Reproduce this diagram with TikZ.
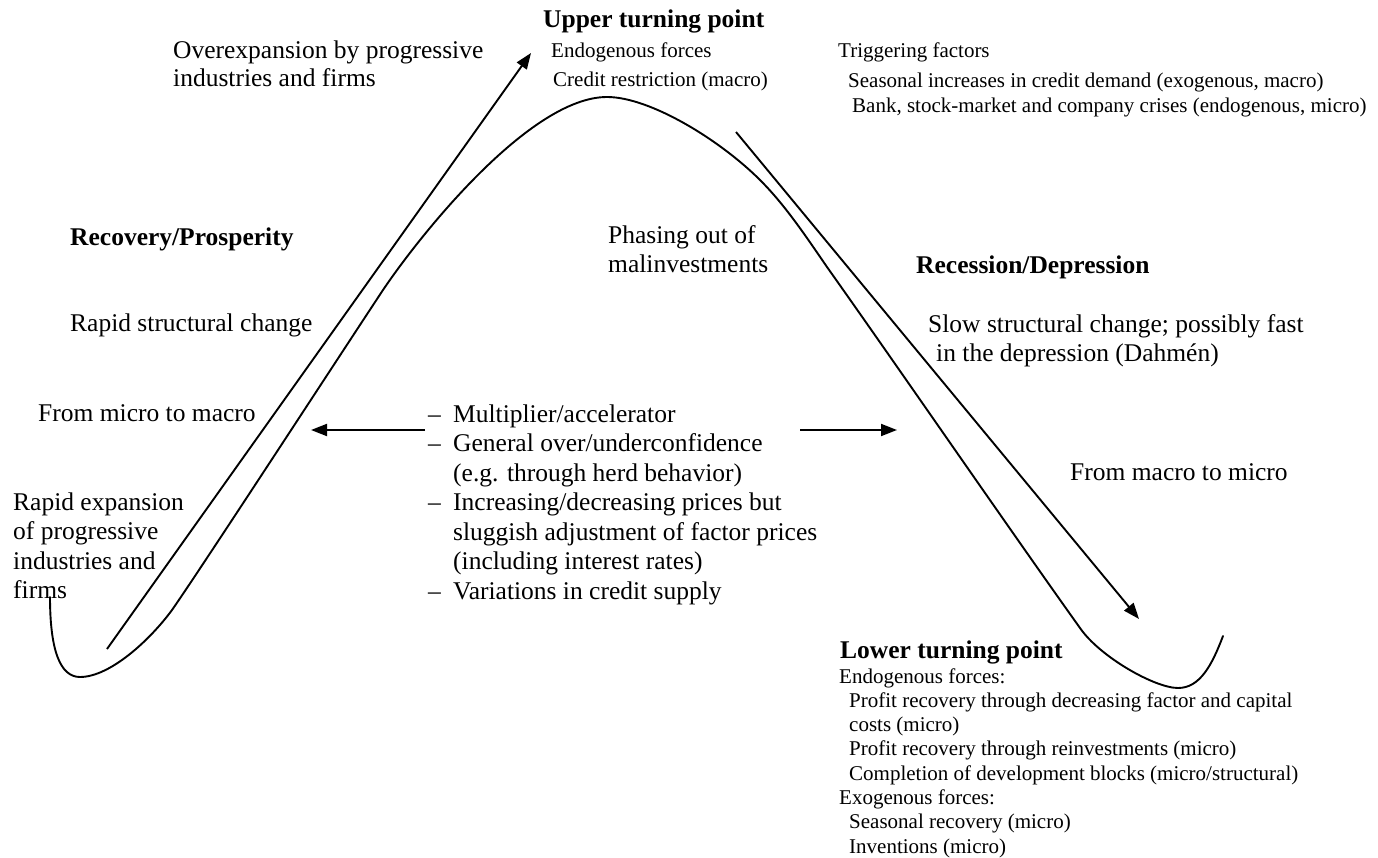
\documentclass[tikz,border=0pt]{standalone}
\usepackage{fontspec}
\setmainfont{Liberation Serif}
\usetikzlibrary{arrows.meta}
\begin{document}
\begin{tikzpicture}[x=1pt,y=-1pt,
  big/.style={font=\fontsize{25.5}{30}\selectfont, anchor=base west, inner sep=0pt},
  bighead/.style={big, font=\fontsize{25.5}{30}\selectfont\bfseries},
  small/.style={font=\fontsize{21}{24}\selectfont, anchor=base west, inner sep=0pt},
  curve/.style={line width=1.9pt, line cap=round, line join=round},
  arr/.style={line width=1.9pt, -{Triangle[length=16pt,width=12pt]}}]
\useasboundingbox (0,0) rectangle (1378,858);

% cycle curve
\draw[curve] (50,597) .. controls (50,650) and (60,677) .. (80,677)
  .. controls (110,677) and (150,640) .. (172,610)
  .. controls (200,570) and (340,355) .. (383,290)
  .. controls (420,235) and (530,97) .. (607,97)
  .. controls (650,97) and (720,140) .. (760,180)
  .. controls (785,205) and (805,235) .. (827,267)
  .. controls (900,370) and (1010,530) .. (1080,628)
  .. controls (1100,657) and (1155,688) .. (1178,688)
  .. controls (1200,688) and (1212,665) .. (1223,636);

% diagonal arrows
\coordinate (upA) at (107,649);
\coordinate (upB) at (531,53);
\coordinate (dnA) at (736,132);
\coordinate (dnB) at (1139,619);
\draw[arr] (upA) -- (upB);
\draw[arr] (dnA) -- (dnB);

% upper turning point
\node[bighead] (utp) at (543,28) {Upper turning point};
\node[small] (endo) at (551,58) {Endogenous forces};
\node[small] (credit) at (553,87) {Credit restriction (macro)};

\node[big] (over1) at (173,59) {Overexpansion by progressive};
\node[big] (over2) at (173,87) {industries and firms};

\node[small] (trig) at (838,58) {Triggering factors};
\node[small] (seas) at (848,88) {Seasonal increases in credit demand (exogenous, macro)};
\node[small] (bank) at (852,113) {Bank, stock-market and company crises (endogenous, micro)};

% left side
\node[bighead] (rec) at (70,246) {Recovery/Prosperity};
\node[big] (rapid) at (70,332) {Rapid structural change};
\node[big] (m2m) at (38,421) {From micro to macro};
\node[big] (exp1) at (13,510) {Rapid expansion};
\node[big] (exp2) at (13,539.5) {of progressive};
\node[big] (exp3) at (13,569) {industries and};
\node[big] (exp4) at (13,598.5) {firms};

% middle
\node[big] (phase1) at (608,244) {Phasing out of};
\node[big] (phase2) at (608,273) {malinvestments};

\node[big] (c1) at (428,422) {\makebox[25pt][l]{–}Multiplier/accelerator};
\node[big] (c2) at (428,451.5) {\makebox[25pt][l]{–}General over/underconfidence};
\node[big] (c3) at (453,481) {(e.g. through herd behavior)};
\node[big] (c4) at (428,510.5) {\makebox[25pt][l]{–}Increasing/decreasing prices but};
\node[big] (c5) at (453,540) {sluggish adjustment of factor prices};
\node[big] (c6) at (453,569.5) {(including interest rates)};
\node[big] (c7) at (428,599) {\makebox[25pt][l]{–}Variations in credit supply};

\coordinate (lA) at (425,430);
\coordinate (lB) at (311,430);
\coordinate (rA) at (800,430);
\coordinate (rB) at (897,430);
\draw[arr] (lA) -- (lB);
\draw[arr] (rA) -- (rB);

% right side
\node[bighead] (recess) at (916,274) {Recession/Depression};
\node[big] (slow1) at (928,333) {Slow structural change; possibly fast};
\node[big] (slow2) at (936,362) {in the depression (Dahmén)};
\node[big] (m2mi) at (1070,480) {From macro to micro};

% lower turning point
\node[bighead] (ltp) at (840,658) {Lower turning point};
\node[small] (l1) at (839,683) {Endogenous forces:};
\node[small] (l2) at (849,707.3) {Profit recovery through decreasing factor and capital};
\node[small] (l3) at (849,731.6) {costs (micro)};
\node[small] (l4) at (849,755.9) {Profit recovery through reinvestments (micro)};
\node[small] (l5) at (849,780.2) {Completion of development blocks (micro/structural)};
\node[small] (l6) at (839,804.5) {Exogenous forces:};
\node[small] (l7) at (849,828.8) {Seasonal recovery (micro)};
\node[small] (l8) at (849,853.1) {Inventions (micro)};
\end{tikzpicture}
\end{document}
